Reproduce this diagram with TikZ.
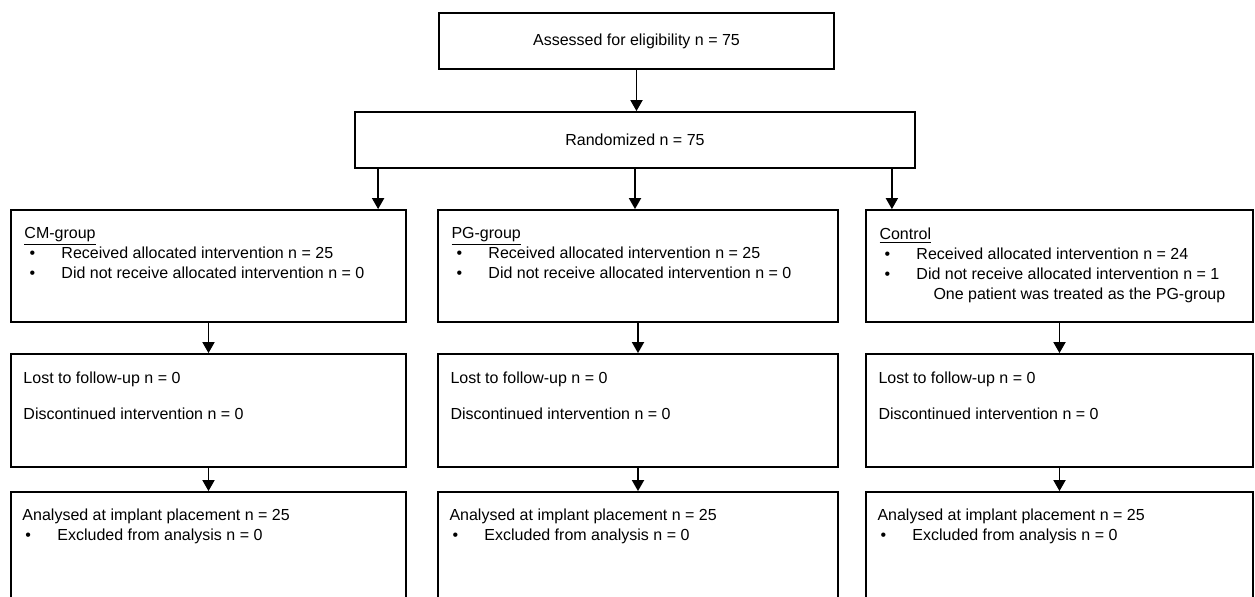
\documentclass[tikz,border=0pt]{standalone}
\usepackage{fontspec}
\setmainfont{Liberation Sans}
\usetikzlibrary{positioning, arrows.meta, calc}
\newcommand{\flowbullet}{\hspace*{2.5pt}\makebox[16pt][l]{\textbullet}}
\tikzset{
	boxnode/.style={
			draw=black,
			line width=0.9pt,
			fill=white,
			inner sep=0pt
		},
	groupbox/.style={
			boxnode,
			minimum height=56pt
		},
	textnode/.style={
			inner sep=0pt,
			align=left,
			font=\fontsize{8}{10}\selectfont
		},
	centertext/.style={
			boxnode,
			font=\fontsize{8}{10}\selectfont,
			minimum height=28pt
		},
	arrowline/.style={
			line width=0.9pt,
			-{Triangle[length=5.5pt,width=6pt]}
		}
}
\begin{document}
\begin{tikzpicture}[x=0.5pt, y=-0.5pt]
	\useasboundingbox (0,0) rectangle (1255,596);
	\clip (0,0) rectangle (1255,596);
	\fill[white] (0,0) rectangle (1255,596);

	\node[centertext, minimum width=197.5pt] at (636.5,41) (assessed) {Assessed for eligibility n = 75};
	\node[centertext, minimum width=280pt] at (635,140) (random) {Randomized n = 75};

	\node[groupbox, minimum width=197.5pt] at (208.5,266) (cmalloc) {};
	\node[groupbox, minimum width=200pt] at (638,266) (pgalloc) {};
	\node[groupbox, minimum width=193.5pt] at (1059.5,266) (ctalloc) {};

	\node[groupbox, minimum width=197.5pt, minimum height=56.5pt] at (208.5,410.5) (cmfollow) {};
	\node[groupbox, minimum width=200pt, minimum height=56.5pt] at (638,410.5) (pgfollow) {};
	\node[groupbox, minimum width=193.5pt, minimum height=56.5pt] at (1059.5,410.5) (ctfollow) {};

	\node[groupbox, minimum width=197.5pt, minimum height=80pt] at (208.5,572) (cmanalys) {};
	\node[groupbox, minimum width=200pt, minimum height=80pt] at (638,572) (pganalys) {};
	\node[groupbox, minimum width=193.5pt, minimum height=80pt] at (1059.5,572) (ctanalys) {};

	\node[textnode, below right=9pt and 7pt of cmalloc.north west] (cmalloctext)
		{\underline{CM-group}\\
		\flowbullet Received allocated intervention n = 25\\
		\flowbullet Did not receive allocated intervention n = 0};
	\node[textnode, below right=9pt and 7pt of pgalloc.north west] (pgalloctext)
		{\underline{PG-group}\\
		\flowbullet Received allocated intervention n = 25\\
		\flowbullet Did not receive allocated intervention n = 0};
	\node[textnode, below right=9pt and 7pt of ctalloc.north west] (ctalloctext)
		{\underline{Control}\\
		\flowbullet Received allocated intervention n = 24\\
		\flowbullet Did not receive allocated intervention n = 1\\
		\hspace*{27pt}One patient was treated as the PG-group};

	\foreach \grp in {cm, pg, ct} {
		\node[textnode, below right=9pt and 6.5pt of \grp follow.north west] (\grp followtext)
			{Lost to follow-up n = 0\\[8pt]Discontinued intervention n = 0};
		\node[textnode, below right=8.5pt and 6pt of \grp analys.north west] (\grp analystext)
			{Analysed at implant placement n = 25\\
			\hspace*{-1pt}\flowbullet Excluded from analysis n = 0};
	}

	\coordinate (randcm) at ($(random.south west)+(24,0)$);
	\coordinate (randct) at ($(random.south east)+(-24,0)$);
	\draw[arrowline] (assessed.south) -- (assessed.south |- random.north);
	\draw[arrowline] (randcm) -- (randcm |- cmalloc.north);
	\draw[arrowline] (random.south) -- (random.south |- pgalloc.north);
	\draw[arrowline] (randct) -- (randct |- ctalloc.north);
	\foreach \grp in {cm, pg, ct} {
		\draw[arrowline] (\grp alloc.south) -- (\grp follow.north);
		\draw[arrowline] (\grp follow.south) -- (\grp analys.north);
	}
\end{tikzpicture}
\end{document}
